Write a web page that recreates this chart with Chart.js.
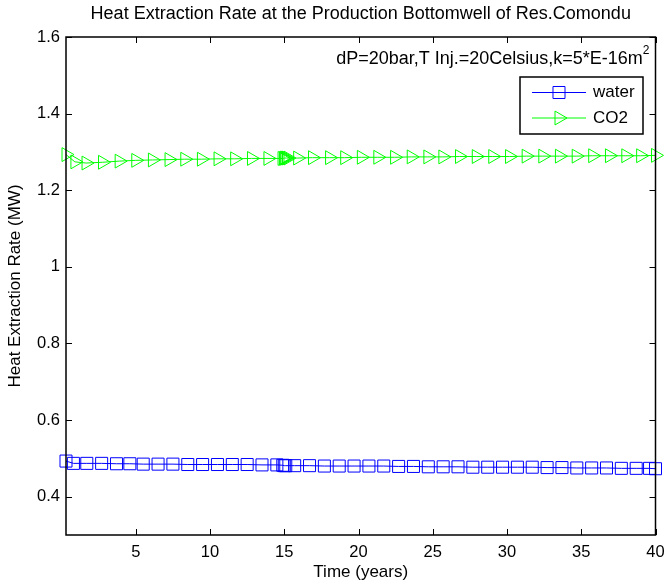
<!DOCTYPE html>
<html>
<head>
<meta charset="utf-8">
<script src="https://cdn.jsdelivr.net/npm/chart.js@4.4.0/dist/chart.umd.min.js"></script>
<style>
  html, body { margin: 0; padding: 0; background: #fff; }
</style>
</head>
<body>
<canvas id="chart" width="665" height="583"></canvas>
<script>
// tick labels
const xTicks = [5, 10, 15, 20, 25, 30, 35, 40];
const yTicks = [0.4, 0.6, 0.8, 1.0, 1.2, 1.4, 1.6];

// water series (years / MW)
const waterYears = [0.3, 0.8, 1.7, 2.7, 3.7, 4.6, 5.5, 6.5, 7.5, 8.5, 9.5, 10.5, 11.5, 12.5, 13.5, 14.5,
    14.9, 15.0, 15.1, 15.7, 16.7, 17.7, 18.7, 19.7, 20.7, 21.7, 22.7, 23.7, 24.7, 25.7, 26.7, 27.7,
    28.7, 29.7, 30.7, 31.7, 32.7, 33.7, 34.7, 35.7, 36.7, 37.7, 38.7, 39.6, 40.0];
const waterRate = [0.493, 0.487, 0.487, 0.487, 0.486, 0.486, 0.485, 0.485, 0.485, 0.484, 0.484, 0.484, 0.484, 0.484, 0.483, 0.483,
    0.482, 0.481, 0.481, 0.481, 0.481, 0.480, 0.480, 0.480, 0.480, 0.480, 0.479, 0.479, 0.478, 0.478, 0.478, 0.477,
    0.477, 0.477, 0.477, 0.477, 0.476, 0.476, 0.475, 0.475, 0.475, 0.474, 0.474, 0.474, 0.473];

// CO2 series (years / MW)
const co2Years = [0.3, 0.9, 1.65, 2.76, 3.88, 5.0, 6.12, 7.24, 8.3, 9.42, 10.54, 11.66, 12.79, 13.9,
    14.85, 14.95, 15.0, 15.05, 15.15, 15.25, 15.9, 16.9, 18.05, 19.07, 20.19, 21.3, 22.43, 23.55, 24.67,
    25.68, 26.8, 27.93, 29.04, 30.17, 31.29, 32.41, 33.53, 34.66, 35.77, 36.9, 38.0, 39.0, 40.0];
const co2Rate = [1.293, 1.274, 1.271, 1.273, 1.276, 1.278, 1.279, 1.280, 1.281, 1.281, 1.282, 1.282, 1.283, 1.283,
    1.283, 1.283, 1.284, 1.284, 1.284, 1.284, 1.284, 1.285, 1.285, 1.285, 1.286, 1.286, 1.286, 1.287, 1.287,
    1.287, 1.288, 1.288, 1.288, 1.288, 1.289, 1.289, 1.289, 1.289, 1.290, 1.290, 1.290, 1.290, 1.291];

const FONT = 'Liberation Sans, Arial, Helvetica, sans-serif';

function toPoints(xs, ys) {
    return xs.map((x, i) => ({ x: x, y: ys[i] }));
}

// cadre + graduations vers l'intérieur, comme matlab
const framePlugin = {
    id: 'frame',
    afterDatasetsDraw(chart) {
        const { ctx, chartArea: a, scales } = chart;
        const len = 6;
        ctx.save();
        ctx.strokeStyle = '#000';
        ctx.lineWidth = 1;
        ctx.beginPath();
        scales.x.ticks.forEach(t => {
            const px = Math.round(scales.x.getPixelForValue(t.value)) + 0.5;
            ctx.moveTo(px, a.bottom); ctx.lineTo(px, a.bottom - len);
            ctx.moveTo(px, a.top); ctx.lineTo(px, a.top + len);
        });
        scales.y.ticks.forEach(t => {
            const py = Math.round(scales.y.getPixelForValue(t.value)) + 0.5;
            ctx.moveTo(a.left, py); ctx.lineTo(a.left + len, py);
            ctx.moveTo(a.right, py); ctx.lineTo(a.right - len, py);
        });
        ctx.stroke();
        ctx.lineWidth = 1.5;
        ctx.strokeRect(a.left, a.top, a.right - a.left, a.bottom - a.top);
        ctx.restore();
    }
};

// légende et annotation dessinées à la main
const boxPlugin = {
    id: 'legendBox',
    afterDraw(chart) {
        const { ctx, chartArea: a } = chart;
        ctx.save();
        // annotation
        ctx.fillStyle = '#000';
        ctx.textBaseline = 'middle';
        ctx.font = '12px ' + FONT;
        ctx.textAlign = 'right';
        const supW = ctx.measureText('2').width;
        ctx.fillText('2', a.right - 6, 51);
        ctx.font = '18px ' + FONT;
        ctx.fillText('dP=20bar,T Inj.=20Celsius,k=5*E-16m', a.right - 6 - supW, 59);

        // legend
        const bx = 520, by = 77, bw = 123, bh = 57;
        ctx.fillStyle = '#fff';
        ctx.fillRect(bx, by, bw, bh);
        ctx.strokeStyle = '#000';
        ctx.lineWidth = 1.5;
        ctx.strokeRect(bx, by, bw, bh);
        ctx.font = '17px ' + FONT;
        ctx.textAlign = 'left';
        chart.data.datasets.forEach((ds, i) => {
            const y = by + 15.5 + i * 25.5;
            ctx.strokeStyle = ds.borderColor;
            ctx.lineWidth = 1;
            ctx.beginPath();
            ctx.moveTo(532, y); ctx.lineTo(586, y);
            ctx.stroke();
            ctx.fillStyle = 'rgba(0,0,0,0)';
            Chart.helpers.drawPoint(ctx, {
                pointStyle: ds.pointStyle, radius: ds.pointRadius, rotation: ds.pointRotation || 0,
                borderWidth: 1
            }, 559, y);
            ctx.fillStyle = '#000';
            ctx.fillText(ds.label, 593, y);
        });
        ctx.restore();
    }
};

new Chart(document.getElementById('chart'), {
    type: 'line',
    data: {
        datasets: [
            {
                label: 'water',
                data: toPoints(waterYears, waterRate),
                borderColor: '#0000ff',
                backgroundColor: 'rgba(0,0,0,0)',
                borderWidth: 1,
                pointStyle: 'rect',
                pointRadius: 8.5,
                pointBorderWidth: 1,
                pointBackgroundColor: 'rgba(0,0,0,0)',
                tension: 0,
                clip: false
            },
            {
                label: 'CO2',
                data: toPoints(co2Years, co2Rate),
                borderColor: '#00ff00',
                backgroundColor: 'rgba(0,0,0,0)',
                borderWidth: 1,
                pointStyle: 'triangle',
                pointRotation: 90,
                pointRadius: 8,
                pointBorderWidth: 1,
                pointBackgroundColor: 'rgba(0,0,0,0)',
                tension: 0,
                clip: false
            }
        ]
    },
    options: {
        responsive: false,
        animation: false,
        events: [],
        layout: { padding: 0 },
        plugins: {
            legend: { display: false },
            tooltip: { enabled: false },
            title: {
                display: true,
                fullSize: false,
                text: 'Heat Extraction Rate at the Production Bottomwell of Res.Comondu',
                color: '#000',
                font: { family: FONT, size: 18, weight: 'normal', lineHeight: 1.2 },
                padding: { top: 3.2, bottom: 12.2 }
            }
        },
        scales: {
            x: {
                type: 'linear',
                min: 0.3,
                max: 40,
                afterBuildTicks: s => { s.ticks = xTicks.map(v => ({ value: v })); },
                afterFit: s => { s.height = 48; s.paddingLeft = 0; s.paddingRight = 9; },
                grid: { display: false, drawTicks: false },
                border: { display: false },
                ticks: { color: '#000', font: { family: FONT, size: 16.5 }, padding: 8, autoSkip: false, maxRotation: 0 },
                title: {
                    display: true, text: 'Time (years)', color: '#000',
                    font: { family: FONT, size: 17 }, padding: { top: 0, bottom: 0 }
                }
            },
            y: {
                type: 'linear',
                min: 0.3,
                max: 1.6,
                afterBuildTicks: s => { s.ticks = yTicks.map(v => ({ value: v })); },
                afterFit: s => { s.width = 66; },
                grid: { display: false, drawTicks: false },
                border: { display: false },
                ticks: {
                    color: '#000', font: { family: FONT, size: 16.5 }, padding: 6, autoSkip: false,
                    callback: v => String(+v.toFixed(1))
                },
                title: {
                    display: true, text: 'Heat Extraction Rate (MW)', color: '#000',
                    font: { family: FONT, size: 17 }, padding: { top: 5, bottom: 0 }
                }
            }
        }
    },
    plugins: [framePlugin, boxPlugin]
});
</script>
</body>
</html>
